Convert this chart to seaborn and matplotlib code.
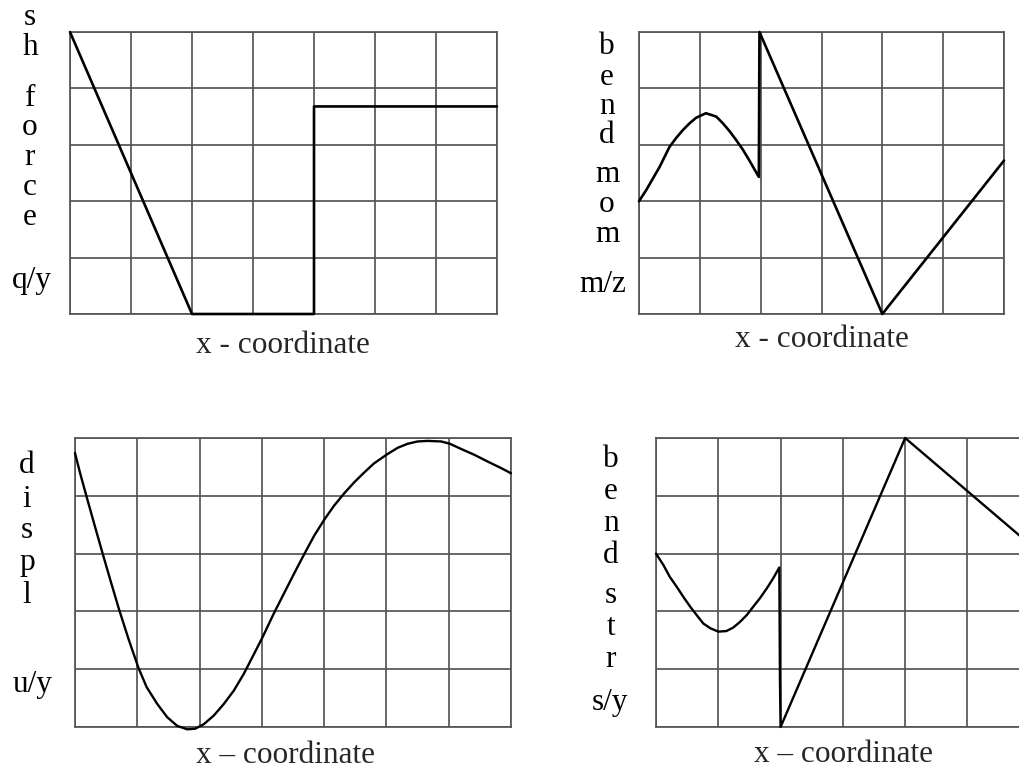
import matplotlib
matplotlib.use("Agg")
import matplotlib.pyplot as plt
import seaborn as sns
import pandas as pd

sns.set_style("white")
plt.rcParams["font.family"] = ["Liberation Serif", "DejaVu Serif"]

# Shear force q/y
shear_x = [0.0, 2.0, 4.0, 4.0, 7.0]
shear_y = [5.0, 0.0, 0.0, 3.68, 3.68]

# Bending moment m/z
moment_x = [0.00, 0.12, 0.34, 0.50, 0.61, 0.72, 0.83, 0.94, 1.10, 1.27, 1.38, 1.49,
            1.60, 1.71, 1.81, 1.97, 1.98, 4.00, 6.00]
moment_y = [2.00, 2.20, 2.61, 2.96, 3.12, 3.26, 3.38, 3.48, 3.56, 3.50, 3.38, 3.24,
            3.08, 2.91, 2.73, 2.43, 5.00, 0.00, 2.72]

# Displacement u/y
disp_x = [0.00, 0.08, 0.19, 0.32, 0.46, 0.56, 0.70, 0.86, 1.02, 1.15, 1.32, 1.48,
          1.64, 1.80, 1.93, 2.07, 2.23, 2.39, 2.55, 2.71, 2.82, 3.01, 3.19, 3.35,
          3.52, 3.68, 3.84, 4.01, 4.16, 4.32, 4.48, 4.64, 4.80, 5.00, 5.18, 5.34,
          5.50, 5.66, 5.88, 6.02, 6.20, 6.41, 6.63, 6.84, 7.00]
disp_y = [4.74, 4.40, 3.97, 3.47, 2.94, 2.57, 2.06, 1.52, 1.02, 0.69, 0.40, 0.17,
          0.02, -0.04, -0.03, 0.05, 0.20, 0.40, 0.63, 0.92, 1.15, 1.55, 1.96, 2.30,
          2.66, 2.99, 3.31, 3.60, 3.83, 4.04, 4.23, 4.40, 4.56, 4.71, 4.83, 4.90,
          4.94, 4.95, 4.94, 4.90, 4.81, 4.71, 4.59, 4.48, 4.39]

# Bending stress s/y
stress_x = [0.00, 0.12, 0.22, 0.33, 0.44, 0.55, 0.65, 0.76, 0.87, 1.00, 1.13, 1.24,
            1.35, 1.46, 1.56, 1.67, 1.78, 1.88, 1.98, 1.99, 2.00, 4.00, 5.85]
stress_y = [3.00, 2.80, 2.60, 2.43, 2.25, 2.08, 1.94, 1.79, 1.71, 1.65, 1.66, 1.72,
            1.82, 1.94, 2.08, 2.23, 2.40, 2.57, 2.76, 0.80, 0.00, 5.00, 3.30]

W, H = 1019, 769
fig = plt.figure(figsize=(W / 100, H / 100), dpi=100)
GRID = "#555555"
FS = 22.5


def panel(left, top, right, bottom, ncols, xs, ys, lw):
    ax = fig.add_axes([left / W, 1 - bottom / H, (right - left) / W, (bottom - top) / H])
    df = pd.DataFrame({"x": xs, "y": ys})
    sns.lineplot(data=df, x="x", y="y", ax=ax, sort=False, estimator=None,
                 color="black", linewidth=lw, clip_on=False, zorder=3,
                 solid_joinstyle="round", solid_capstyle="round")
    ax.set_xlim(0, ncols)
    ax.set_ylim(0, 5)
    ax.set_xticks(range(ncols + 1))
    ax.set_yticks(range(6))
    ax.tick_params(length=0, labelbottom=False, labelleft=False)
    ax.set_xlabel("")
    ax.set_ylabel("")
    ax.grid(True, color=GRID, linewidth=1.25)
    for s in ax.spines.values():
        s.set_color(GRID)
        s.set_linewidth(1.25)
    return ax


def stacked(xc, items):
    for txt, yb in items:
        fig.text(xc / W, 1 - yb / H, txt, ha="center", va="baseline",
                 fontsize=FS, color="black")


panel(70, 32, 497, 314, 7, shear_x, shear_y, 1.9)
panel(639, 32, 1004, 314, 6, moment_x, moment_y, 1.9)
panel(75, 438, 511, 727, 7, disp_x, disp_y, 1.7)
panel(656, 438, 1092, 727, 7, stress_x, stress_y, 1.7)

stacked(30, [("s", 25), ("h", 55), ("f", 106), ("o", 135), ("r", 165),
             ("c", 195), ("e", 225)])
stacked(32, [("q/y", 288)])
stacked(607, [("b", 54), ("e", 85), ("n", 114), ("d", 143), ("m", 182),
              ("o", 212), ("m", 242)])
stacked(603, [("m/z", 292)])
stacked(27, [("d", 473), ("i", 507), ("s", 538), ("p", 570), ("l", 603)])
stacked(33, [("u/y", 692)])
stacked(611, [("b", 467), ("e", 499), ("n", 531), ("d", 563), ("s", 603),
              ("t", 635), ("r", 667)])
stacked(610, [("s/y", 710)])

fig.text(283 / W, 1 - 353 / H, "x - coordinate", ha="center", va="baseline", fontsize=FS)
fig.text(822 / W, 1 - 347 / H, "x - coordinate", ha="center", va="baseline", fontsize=FS)
fig.text(285 / W, 1 - 763 / H, "x \u2013 coordinate", ha="center", va="baseline", fontsize=FS)
fig.text(844 / W, 1 - 762 / H, "x \u2013 coordinate", ha="center", va="baseline", fontsize=FS)

fig.savefig("out.png", dpi=100)
